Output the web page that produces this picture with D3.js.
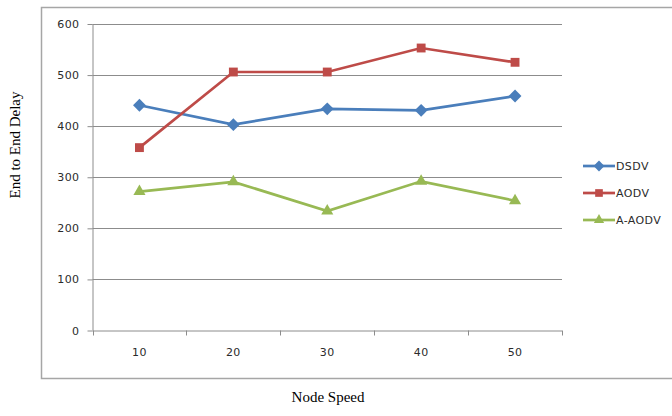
<!DOCTYPE html>
<html><head><meta charset="utf-8">
<script src="https://cdn.jsdelivr.net/npm/d3@7"></script>
<style>body{margin:0;background:#fff}svg{display:block}</style>
</head><body>
<svg id="c" width="672" height="416"></svg>
<script>
const categories = ["10","20","30","40","50"];
const dsdv = [441, 403, 434, 431, 459];
const aodv = [358, 506, 506, 553, 525];
const aaodv = [272, 291, 234, 292, 254];
const yTicks = [0,100,200,300,400,500,600];
const seriesNames = ["DSDV","AODV","A-AODV"];
const seriesColors = ["#4A7EBB","#BE4B48","#98B954"];
const seriesShapes = [d3.symbolDiamond2, d3.symbolSquare2, d3.symbolTriangle2];

const svg = d3.select("#c");
const L = 92.5, R = 562, T = 24, B = 330.5;
const tickFont = {family:"DejaVu Sans", size:11, spacing:0.4, fill:"#2b2b2b"};

// outer box
svg.append("path").attr("d","M680,7.5H41.5V378.5H680").attr("fill","none").attr("stroke","#a6a6a6").attr("stroke-width",1.5);

const x = d3.scaleBand().domain(categories).range([L,R]);
const y = d3.scaleLinear().domain([0,600]).range([B,T]);

// gridlines
svg.append("g").selectAll("line").data(yTicks.filter(d=>d>0)).join("line")
  .attr("x1",L).attr("x2",R).attr("y1",d=>Math.round(y(d))+0.5).attr("y2",d=>Math.round(y(d))+0.5)
  .attr("stroke","#8c8c8c").attr("stroke-width",1);

function styleText(sel){
  sel.attr("font-family",tickFont.family).attr("font-size",tickFont.size)
     .attr("letter-spacing",tickFont.spacing).attr("fill",tickFont.fill);
}

// y axis
const ya = svg.append("g").attr("transform",`translate(${L},0)`)
  .call(d3.axisLeft(y).tickValues(yTicks).tickSize(5).tickPadding(8));
ya.select(".domain").attr("stroke","#8c8c8c").attr("d",`M0.5,${T}V${B}`);
ya.selectAll(".tick line").attr("stroke","#8c8c8c");
styleText(ya.selectAll("text"));

// x axis
const xa = svg.append("g").attr("transform",`translate(0,${B})`)
  .call(d3.axisBottom(x).tickSize(0).tickPadding(18));
xa.select(".domain").attr("stroke","#8c8c8c").attr("d",`M${L},0.5H${R}`);
styleText(xa.selectAll("text"));
svg.append("g").selectAll("line").data(d3.range(categories.length+1)).join("line")
  .attr("x1",i=>Math.round(L+i*x.step())+0.5).attr("x2",i=>Math.round(L+i*x.step())+0.5)
  .attr("y1",B).attr("y2",B+5).attr("stroke","#8c8c8c");

// series
const all = [dsdv, aodv, aaodv];
const cx = c => x(c)+x.bandwidth()/2;
all.forEach((vals,si)=>{
  const data = vals.map((v,i)=>({c:categories[i],v}));
  svg.append("path").datum(data)
    .attr("fill","none").attr("stroke",seriesColors[si]).attr("stroke-width",2.7)
    .attr("d",d3.line().x(d=>cx(d.c)).y(d=>y(d.v)));
  svg.append("g").selectAll("path").data(data).join("path")
    .attr("transform",d=>`translate(${cx(d.c)},${y(d.v)})`)
    .attr("d",d3.symbol().type(seriesShapes[si]).size(si===1?100:105))
    .attr("fill",seriesColors[si]);
});

// legend
const lg = svg.append("g");
seriesNames.forEach((n,i)=>{
  const yy = 166 + i*27;
  lg.append("line").attr("x1",583).attr("x2",615).attr("y1",yy).attr("y2",yy)
    .attr("stroke",seriesColors[i]).attr("stroke-width",2.7);
  lg.append("path").attr("transform",`translate(599,${yy})`)
    .attr("d",d3.symbol().type(seriesShapes[i]).size(75)).attr("fill",seriesColors[i]);
  const t = lg.append("text").attr("x",616).attr("y",yy+4).text(n);
  styleText(t);
});

// titles
svg.append("text").attr("x",328).attr("y",402).attr("text-anchor","middle")
  .attr("font-family","Liberation Serif").attr("font-size",15).text("Node Speed");
svg.append("text").attr("transform","translate(20,145) rotate(-90)").attr("text-anchor","middle")
  .attr("font-family","Liberation Serif").attr("font-size",15).text("End to End Delay");
</script>
</body></html>
